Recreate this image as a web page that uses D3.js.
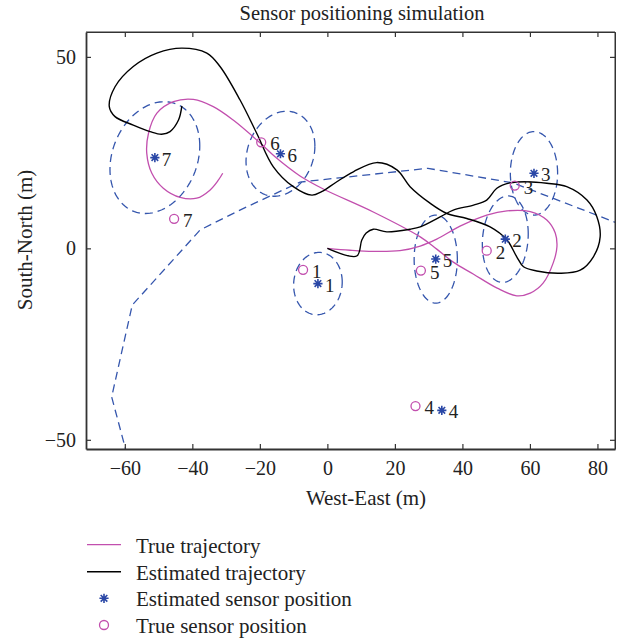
<!DOCTYPE html>
<html>
<head>
<meta charset="utf-8">
<script src="https://cdn.jsdelivr.net/npm/d3@7"></script>
<style>
  body { margin: 0; background: #fff; }
  svg { display: block; }
  text { font-family: 'Liberation Serif', 'DejaVu Serif', serif; fill: #222; }
</style>
</head>
<body>
<div id="chart"></div>
<script>
// axis ticks
const xTicks = [-60, -40, -20, 0, 20, 40, 60, 80]
const yTicks = [-50, 0, 50]

// true trajectory (m)
const trueTrajX = [0, 6.7, 13.5, 21.5, 27.5, 32.4, 39.3, 47.2, 53.2, 60.1, 65.0, 67.5, 68.0, 66.9, 63.9, 60.1, 56.1, 50.3, 43.2, 37.3, 32.4, 27.5, 13.6, -1.2, -8.1, -15.5, -19.9, -27.9, -33.8, -39.7, -45.6, -50.5, -53.0, -53.5, -52.0, -48.6, -43.6, -38.7, -34.8, -32.3, -31.0]
const trueTrajY = [0, -0.5, -0.8, -0.6, 0.6, 2.4, 5.8, 8.7, 9.8, 9.6, 7.4, 4.0, 0.4, -3.8, -9.1, -11.7, -12.4, -10.4, -6.7, -3.6, -0.2, 3.0, 9.5, 15.5, 18.9, 23.9, 27.5, 33.5, 37.0, 38.9, 38.3, 35.3, 30.0, 24.8, 19.6, 15.7, 13.3, 13.1, 15.2, 17.8, 19.6]

// estimated trajectory (m)
const estTrajX = [0, 8.7, 10.2, 11.5, 13.6, 17.6, 24.5, 27.5, 33.4, 37.3, 43.3, 47.2, 50.2, 54.1, 59.1, 65.0, 70.9, 76.9, 79.8, 80.8, 78.8, 74.9, 68.9, 62.0, 58.1, 56.1, 53.2, 48.2, 41.3, 35.4, 30.4, 24.5, 20.6, 14.6, 7.7, 2.8, -1.7, -4.6, -10.1, -16.0, -20.9, -25.9, -31.8, -35.7, -43.1, -50.5, -57.5, -62.9, -64.6, -62.9, -57.5, -52.5, -49.1, -46.6, -44.1, -43.1]
const estTrajY = [0, -2.0, 2.2, 4.0, 5.0, 4.3, 5.0, 5.6, 8.2, 10.0, 11.3, 12.6, 15.7, 17.1, 17.4, 17.0, 16.1, 12.6, 8.3, 3.0, -2.2, -5.7, -6.5, -5.9, -4.8, -2.2, 2.2, 5.6, 7.8, 9.1, 11.8, 16.1, 20.5, 22.4, 20.0, 17.4, 14.8, 13.9, 16.1, 21.3, 30.0, 38.8, 47.5, 51.0, 52.3, 51.0, 47.5, 42.2, 37.0, 34.4, 32.2, 30.5, 29.8, 30.5, 33.5, 37.2]

// dashed reference route (m)
const routeX = [-59.3, -63.9, -57.8, -37.7, -25.9, -8.1, 29.8, 55.0, 90.0]
const routeY = [-54.0, -38.8, -14.8, 4.8, 10.0, 17.3, 20.9, 17.1, 5.2]

// sensors
const sensorIds = [1, 2, 3, 4, 5, 6, 7]
const trueSensorX = [-7.2, 47.2, 55.5, 26.1, 27.7, -19.6, -45.4]
const trueSensorY = [-5.6, -0.6, 16.4, -41.2, -5.8, 27.7, 7.7]
const estSensorX = [-2.8, 52.7, 61.2, 33.9, 32.1, -13.9, -51.1]
const estSensorY = [-9.2, 2.4, 19.6, -42.3, -2.8, 24.7, 23.7]

// uncertainty ellipses (std in x, std in y, correlation); sensor 4 has none
const ellSx = [7.2, 6.8, 7.0, null, 6.4, 10.2, 13.3]
const ellSy = [8.15, 11.3, 10.9, null, 11.5, 11.1, 14.6]
const ellRho = [0.05, 0.12, 0.0, null, 0.0, 0.18, 0.21]

const legendLabels = ['True trajectory', 'Estimated trajectory', 'Estimated sensor position', 'True sensor position']

const W = 622
const H = 638
const magenta = '#c24fae'
const blue = '#3556ad'
const starBlue = '#2a47a6'

const svg = d3.select('#chart').append('svg')
  .attr('width', W)
  .attr('height', H)

const x = d3.scaleLinear().domain([-71.5, 85.2]).range([86, 615])
const y = d3.scaleLinear().domain([-52.4, 56.5]).range([449, 32])

svg.append('clipPath').attr('id', 'plotclip')
  .append('rect')
  .attr('x', x.range()[0]).attr('y', y.range()[1])
  .attr('width', x.range()[1] - x.range()[0])
  .attr('height', y.range()[0] - y.range()[1])

const plot = svg.append('g').attr('clip-path', 'url(#plotclip)')

// ellipses
const tt = d3.range(0, 2 * Math.PI + 0.001, Math.PI / 60)
const ellLine = d3.line().x(d => x(d[0])).y(d => y(d[1]))
sensorIds.forEach((id, i) => {
  if (ellSx[i] == null) return
  const sx = ellSx[i]
  const sy = ellSy[i]
  const r = ellRho[i]
  const pts = tt.map(t => [
    estSensorX[i] + sx * Math.cos(t),
    estSensorY[i] + sy * (r * Math.cos(t) + Math.sqrt(1 - r * r) * Math.sin(t))
  ])
  plot.append('path')
    .attr('d', ellLine(pts))
    .attr('fill', 'none')
    .attr('stroke', blue)
    .attr('stroke-width', 1.3)
    .attr('stroke-dasharray', '8,5')
})

// route
plot.append('path')
  .attr('d', d3.line().x(d => x(d[0])).y(d => y(d[1]))(d3.zip(routeX, routeY)))
  .attr('fill', 'none')
  .attr('stroke', blue)
  .attr('stroke-width', 1.3)
  .attr('stroke-dasharray', '8,5')

const smooth = d3.line()
  .x(d => x(d[0]))
  .y(d => y(d[1]))
  .curve(d3.curveCatmullRom.alpha(0.5))

plot.append('path')
  .attr('d', smooth(d3.zip(trueTrajX, trueTrajY)))
  .attr('fill', 'none')
  .attr('stroke', magenta)
  .attr('stroke-width', 1.3)

plot.append('path')
  .attr('d', smooth(d3.zip(estTrajX, estTrajY)))
  .attr('fill', 'none')
  .attr('stroke', '#000')
  .attr('stroke-width', 1.4)

// star marker (matlab style *)
const starPath = (cx, cy, s) => {
  const d = s * 0.72
  return `M${cx - s},${cy}L${cx + s},${cy}M${cx},${cy - s}L${cx},${cy + s}` +
    `M${cx - d},${cy - d}L${cx + d},${cy + d}M${cx - d},${cy + d}L${cx + d},${cy - d}`
}

const markers = svg.append('g')
sensorIds.forEach((id, i) => {
  const ex = x(estSensorX[i])
  const ey = y(estSensorY[i])
  markers.append('path')
    .attr('d', starPath(ex, ey, 4.6))
    .attr('stroke', starBlue)
    .attr('stroke-width', 1.6)
  markers.append('text')
    .attr('x', ex + 7).attr('y', ey + 8)
    .attr('font-size', 19)
    .text(id)

  const tx = x(trueSensorX[i])
  const ty = y(trueSensorY[i])
  markers.append('circle')
    .attr('cx', tx).attr('cy', ty).attr('r', 4.5)
    .attr('fill', 'none')
    .attr('stroke', magenta)
    .attr('stroke-width', 1.3)
  markers.append('text')
    .attr('x', tx + 9).attr('y', ty + 8)
    .attr('font-size', 19)
    .text(id)
})

// axes box
const axisColor = '#333'
const [x0, x1] = x.range()
const [y0, y1] = y.range()
svg.append('line').attr('x1', x0).attr('x2', x1).attr('y1', y1).attr('y2', y1)
  .attr('stroke', axisColor).attr('stroke-width', 1)
svg.append('line').attr('x1', x1).attr('x2', x1).attr('y1', y0).attr('y2', y1)
  .attr('stroke', axisColor).attr('stroke-width', 1)

const xAxisB = svg.append('g').attr('transform', `translate(0,${y0})`)
  .call(d3.axisBottom(x).tickValues(xTicks).tickSizeInner(-5).tickSizeOuter(0).tickPadding(12)
    .tickFormat(d => d3.format('')(d).replace('-', '\u2212')))
const xAxisT = svg.append('g').attr('transform', `translate(0,${y1})`)
  .call(d3.axisTop(x).tickValues(xTicks).tickSizeInner(-5).tickSizeOuter(0).tickFormat(''))
const yAxisL = svg.append('g').attr('transform', `translate(${x0},0)`)
  .call(d3.axisLeft(y).tickValues(yTicks).tickSizeInner(-5).tickSizeOuter(0).tickPadding(10)
    .tickFormat(d => d3.format('')(d).replace('-', '\u2212')))
const yAxisR = svg.append('g').attr('transform', `translate(${x1},0)`)
  .call(d3.axisRight(y).tickValues(yTicks).tickSizeInner(-5).tickSizeOuter(0).tickFormat(''))

;[xAxisB, xAxisT, yAxisL, yAxisR].forEach(a => {
  a.selectAll('.tick line').attr('stroke', axisColor).attr('stroke-width', 1.2)
  a.selectAll('.tick text').attr('font-size', 20).attr('font-family', "'Liberation Serif', serif").attr('fill', '#222')
})
xAxisB.select('.domain').attr('stroke', axisColor).attr('stroke-width', 1.8)
yAxisL.select('.domain').attr('stroke', axisColor).attr('stroke-width', 1.8)
xAxisT.select('.domain').attr('stroke', axisColor).attr('stroke-width', 1)
yAxisR.select('.domain').attr('stroke', axisColor).attr('stroke-width', 1)

// titles
svg.append('text')
  .attr('x', 362).attr('y', 20)
  .attr('text-anchor', 'middle')
  .attr('font-size', 20.5)
  .text('Sensor positioning simulation')

svg.append('text')
  .attr('x', 366).attr('y', 505)
  .attr('text-anchor', 'middle')
  .attr('font-size', 21)
  .text('West-East (m)')

svg.append('text')
  .attr('transform', 'translate(32,240) rotate(-90)')
  .attr('text-anchor', 'middle')
  .attr('font-size', 21)
  .text('South-North (m)')

// legend
const legY = [544.7, 571.7, 598.3, 625]
const leg = svg.append('g')
leg.append('line').attr('x1', 87).attr('x2', 121).attr('y1', legY[0]).attr('y2', legY[0])
  .attr('stroke', magenta).attr('stroke-width', 1.3)
leg.append('line').attr('x1', 87).attr('x2', 121).attr('y1', legY[1]).attr('y2', legY[1])
  .attr('stroke', '#000').attr('stroke-width', 1.4)
leg.append('path').attr('d', starPath(104, legY[2], 4.6))
  .attr('stroke', starBlue).attr('stroke-width', 1.6)
leg.append('circle').attr('cx', 104).attr('cy', legY[3]).attr('r', 4.5)
  .attr('fill', 'none').attr('stroke', magenta).attr('stroke-width', 1.3)
legendLabels.forEach((t, i) => {
  leg.append('text')
    .attr('x', 136).attr('y', legY[i] + 8)
    .attr('font-size', 21)
    .text(t)
})
</script>
</body>
</html>
